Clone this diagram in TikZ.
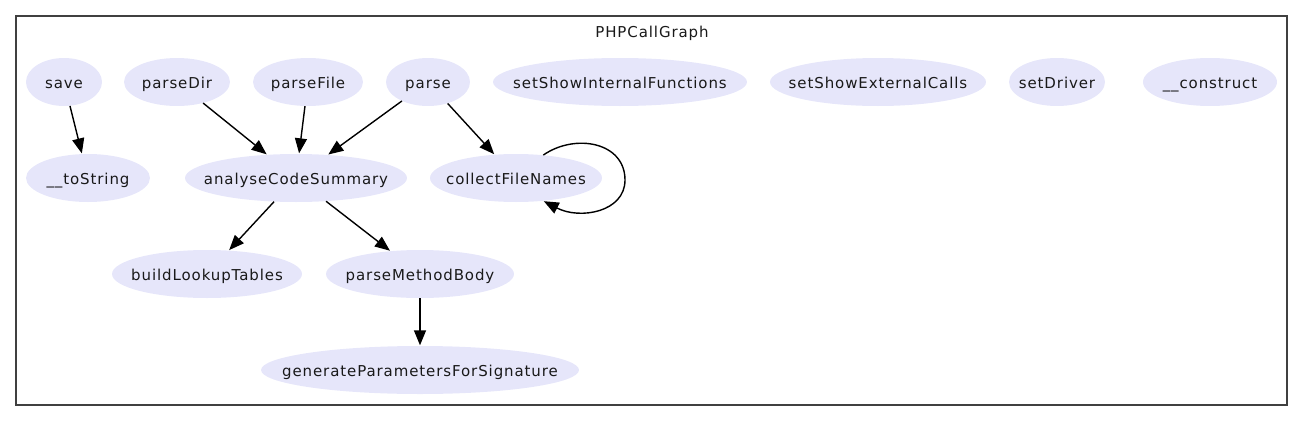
\documentclass[tikz,border=0pt]{standalone}
\usepackage{fontspec}
\newfontfamily\gvfont[LetterSpace=6]{DejaVu Sans}
\usetikzlibrary{shapes.geometric,arrows.meta}
\definecolor{lav}{HTML}{E6E6FA}
\definecolor{clusterline}{HTML}{404040}
\newcommand{\gvlabel}[1]{\makebox[0pt]{#1}}
\tikzset{
  gvtext/.style={font=\gvfont\fontsize{15pt}{17pt}\selectfont, text=black!90, text height=15pt, text depth=3pt},
  fn/.style={ellipse, fill=lav, inner sep=0pt, minimum height=48pt, gvtext},
  call/.style={line width=1.4pt, -{Triangle[length=15pt,width=12pt]}, shorten >=0.5pt},
}
\begin{document}
\begin{tikzpicture}[x=1pt,y=-1pt]
\useasboundingbox (0,0) rectangle (1303,431);
\draw[clusterline, line width=1.4pt] (16,16) rectangle (1287,405);
\node[gvtext, inner sep=0pt] (title) at (652,31) {PHPCallGraph};

\node[fn, minimum width=76pt]  (save) at (64,82) {\gvlabel{save}};
\node[fn, minimum width=106pt] (parseDir) at (177,82) {\gvlabel{parseDir}};
\node[fn, minimum width=110pt] (parseFile) at (308,82) {\gvlabel{parseFile}};
\node[fn, minimum width=84pt]  (parse) at (428,82) {\gvlabel{parse}};
\node[fn, minimum width=254pt] (ssif) at (620,82) {\gvlabel{setShowInternalFunctions}};
\node[fn, minimum width=216pt] (ssec) at (878,82) {\gvlabel{setShowExternalCalls}};
\node[fn, minimum width=96pt]  (setDriver) at (1057,82) {\gvlabel{setDriver}};
\node[fn, minimum width=134pt] (construct) at (1210,82) {\gvlabel{\_\_construct}};

\node[fn, minimum width=124pt] (toString) at (88,178) {\gvlabel{\_\_toString}};
\node[fn, minimum width=222pt] (acs) at (296,178) {\gvlabel{analyseCodeSummary}};
\node[fn, minimum width=172pt] (cfn) at (516,178) {\gvlabel{collectFileNames}};

\node[fn, minimum width=190pt] (blt) at (207,274) {\gvlabel{buildLookupTables}};
\node[fn, minimum width=188pt] (pmb) at (420,274) {\gvlabel{parseMethodBody}};

\node[fn, minimum width=318pt] (gpfs) at (420,370) {\gvlabel{generateParametersForSignature}};

\draw[call] (save) -- (toString);
\draw[call] (parseDir) -- (acs);
\draw[call] (parseFile) -- (acs);
\draw[call] (parse) -- (acs);
\draw[call] (parse) -- (cfn);
\draw[call] (cfn.40) .. controls (575,133) and (625,142) .. (625,180) .. controls (625,212) and (580,220) .. (cfn.-40);
\draw[call] (acs) -- (blt);
\draw[call] (acs) -- (pmb);
\draw[call] (pmb) -- (gpfs);
\end{tikzpicture}
\end{document}
